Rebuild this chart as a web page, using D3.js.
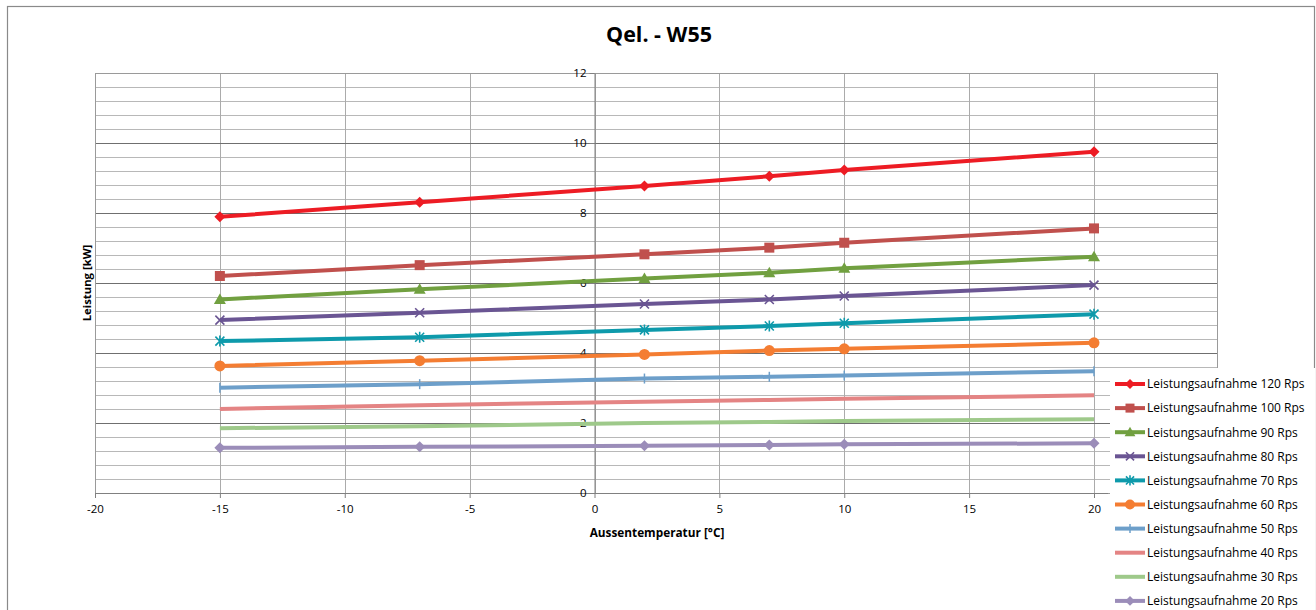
<!DOCTYPE html>
<html><head><meta charset="utf-8">
<script src="https://cdn.jsdelivr.net/npm/d3@7"></script>
<style>body{margin:0;background:#fff;} svg{display:block;font-family:"Open Sans","Noto Sans",sans-serif;}</style>
</head><body>
<svg id="c" width="1316" height="610"></svg>
<script>
const title = "Qel. - W55";
const xTitle = "Aussentemperatur [°C]";
const yTitle = "Leistung [kW]";
const temps = [-15, -7, 2, 7, 10, 20];
const xTicks = [-20, -15, -10, -5, 0, 5, 10, 15, 20];
const yTicks = [0, 2, 4, 6, 8, 10, 12];
const seriesNames = ["Leistungsaufnahme 120 Rps","Leistungsaufnahme 100 Rps","Leistungsaufnahme 90 Rps","Leistungsaufnahme 80 Rps","Leistungsaufnahme 70 Rps","Leistungsaufnahme 60 Rps","Leistungsaufnahme 50 Rps","Leistungsaufnahme 40 Rps","Leistungsaufnahme 30 Rps","Leistungsaufnahme 20 Rps"];
const s120 = [7.89, 8.31, 8.77, 9.05, 9.23, 9.75];
const s100 = [6.20, 6.51, 6.82, 7.01, 7.15, 7.56];
const s90  = [5.53, 5.82, 6.13, 6.29, 6.42, 6.75];
const s80  = [4.94, 5.15, 5.40, 5.53, 5.63, 5.94];
const s70  = [4.34, 4.45, 4.66, 4.77, 4.85, 5.11];
const s60  = [3.63, 3.78, 3.96, 4.07, 4.12, 4.29];
const s50  = [3.01, 3.11, 3.27, 3.32, 3.36, 3.48];
const s40  = [2.40, 2.51, 2.61, 2.66, 2.69, 2.79];
const s30  = [1.85, 1.91, 2.00, 2.03, 2.06, 2.11];
const s20  = [1.29, 1.32, 1.35, 1.37, 1.39, 1.42];
const seriesValues = [s120, s100, s90, s80, s70, s60, s50, s40, s30, s20];
const colors = ["#ed1c24","#c0504d","#71a040","#6a5593","#0e9aab","#f47d32","#6d9fca","#e48484","#9ec98a","#9b8db9"];
const markers = ["diamond","square","triangle","x","asterisk","circle","plus","none","none","diamond"];

const svg = d3.select("#c");
const L = 95, R = 1218, T = 73, B = 493;
const x = d3.scaleLinear().domain([-20, 20]).range([95, 1094]);
const y = d3.scaleLinear().domain([0, 12]).range([B, T]);

// outer chart border
svg.append("rect").attr("x",7.5).attr("y",6.5).attr("width",1307).attr("height",620)
  .attr("fill","#fff").attr("stroke","#8a8a8a").attr("stroke-width",1.2);

// title
svg.append("text").attr("x",659).attr("y",42).attr("text-anchor","middle")
  .attr("font-size",21.5).attr("font-weight","bold").attr("fill","#000").text(title);

// grid: minor horizontal
const minor = d3.range(0, 12.0001, 0.4);
svg.append("g").selectAll("line").data(minor).join("line")
  .attr("x1",L).attr("x2",R).attr("y1",d=>Math.round(y(d))+0.5).attr("y2",d=>Math.round(y(d))+0.5)
  .attr("stroke","#b8b8b8").attr("stroke-width",1);
// vertical gridlines
svg.append("g").selectAll("line").data(xTicks).join("line")
  .attr("x1",d=>Math.round(x(d))+0.5).attr("x2",d=>Math.round(x(d))+0.5).attr("y1",T).attr("y2",B)
  .attr("stroke","#ababab").attr("stroke-width",1);
// major horizontal
svg.append("g").selectAll("line").data(yTicks).join("line")
  .attr("x1",L).attr("x2",R).attr("y1",d=>Math.round(y(d))+0.5).attr("y2",d=>Math.round(y(d))+0.5)
  .attr("stroke","#6f6f6f").attr("stroke-width",1.2);
// plot border
svg.append("rect").attr("x",L+0.5).attr("y",T+0.5).attr("width",R-L-1).attr("height",B-T)
  .attr("fill","none").attr("stroke","#9a9a9a").attr("stroke-width",1);

// axes
const xAxis = d3.axisBottom(x).tickValues(xTicks).tickSize(5).tickSizeOuter(0).tickFormat(d3.format("d"));
const gx = svg.append("g").attr("transform",`translate(0,${B})`).call(xAxis);
gx.select(".domain").attr("stroke","#808080").attr("d",`M${L},0.5H1108`);
gx.selectAll(".tick line").attr("stroke","#808080");
gx.selectAll(".tick text").attr("font-size",11.5).attr("fill","#000").attr("dy","1.05em")
  .attr("font-family","'Open Sans',sans-serif").text(d=>d<0?"-"+Math.abs(d):d);

const yAxis = d3.axisLeft(y).tickValues(yTicks).tickSize(5).tickSizeOuter(0);
const gy = svg.append("g").attr("transform",`translate(${x(0)},0)`).call(yAxis);
gy.select(".domain").attr("stroke","#808080");
gy.selectAll(".tick line").attr("stroke","#808080");
gy.selectAll(".tick text").attr("font-size",11.5).attr("fill","#000").attr("x",-8)
  .attr("font-family","'Open Sans',sans-serif");

// axis titles
svg.append("text").attr("x",657).attr("y",537).attr("text-anchor","middle")
  .attr("font-size",11.8).attr("font-weight","bold").text(xTitle);
svg.append("text").attr("transform",`translate(91,${(T+B)/2}) rotate(-90)`).attr("text-anchor","middle")
  .attr("font-size",11.3).attr("font-weight","bold").text(yTitle);

// marker drawing
function drawMarker(g, type, cx, cy, color, s) {
  s = s || 1;
  if (type === "diamond") {
    const r = 5.5*s;
    g.append("path").attr("d",`M${cx},${cy-r}L${cx+r},${cy}L${cx},${cy+r}L${cx-r},${cy}Z`).attr("fill",color);
  } else if (type === "square") {
    const r = 5*s;
    g.append("rect").attr("x",cx-r).attr("y",cy-r).attr("width",2*r).attr("height",2*r).attr("fill",color);
  } else if (type === "triangle") {
    const r = 6*s;
    g.append("path").attr("d",`M${cx},${cy-r}L${cx+r},${cy+r*0.75}L${cx-r},${cy+r*0.75}Z`).attr("fill",color);
  } else if (type === "x") {
    const r = 4.5*s;
    g.append("path").attr("d",`M${cx-r},${cy-r}L${cx+r},${cy+r}M${cx-r},${cy+r}L${cx+r},${cy-r}`)
      .attr("stroke",color).attr("stroke-width",1.6).attr("fill","none");
  } else if (type === "asterisk") {
    const r = 4.5*s;
    g.append("path").attr("d",`M${cx-r},${cy-r}L${cx+r},${cy+r}M${cx-r},${cy+r}L${cx+r},${cy-r}M${cx},${cy-r-1}L${cx},${cy+r+1}`)
      .attr("stroke",color).attr("stroke-width",1.6).attr("fill","none");
  } else if (type === "circle") {
    g.append("circle").attr("cx",cx).attr("cy",cy).attr("r",5.5*s).attr("fill",color);
  } else if (type === "plus") {
    const r = 5*s;
    g.append("path").attr("d",`M${cx},${cy-r}L${cx},${cy+r}`)
      .attr("stroke",color).attr("stroke-width",1.5).attr("fill","none");
  }
}

// series lines
const line = d3.line().x((d,i)=>x(temps[i])).y(d=>y(d));
const gs = svg.append("g");
for (let k = seriesValues.length-1; k >= 0; k--) {
  const g = gs.append("g");
  g.append("path").datum(seriesValues[k]).attr("d",line).attr("fill","none")
    .attr("stroke",colors[k]).attr("stroke-width",4).attr("stroke-linejoin","round");
  seriesValues[k].forEach((v,i)=>drawMarker(g, markers[k], x(temps[i]), y(v), colors[k]));
}

// legend
const lg = svg.append("g");
lg.append("rect").attr("x",1110).attr("y",368).attr("width",205).attr("height",242).attr("fill","#fff");
seriesNames.forEach((n,i)=>{
  const cy = 384 + i*24.1;
  lg.append("line").attr("x1",1115).attr("x2",1145).attr("y1",cy).attr("y2",cy)
    .attr("stroke",colors[i]).attr("stroke-width",4);
  drawMarker(lg, markers[i], 1130, cy, colors[i], 0.9);
  lg.append("text").attr("x",1147).attr("y",cy+4.3).attr("font-size",12).attr("fill","#000").text(n);
});
</script>
</body></html>
